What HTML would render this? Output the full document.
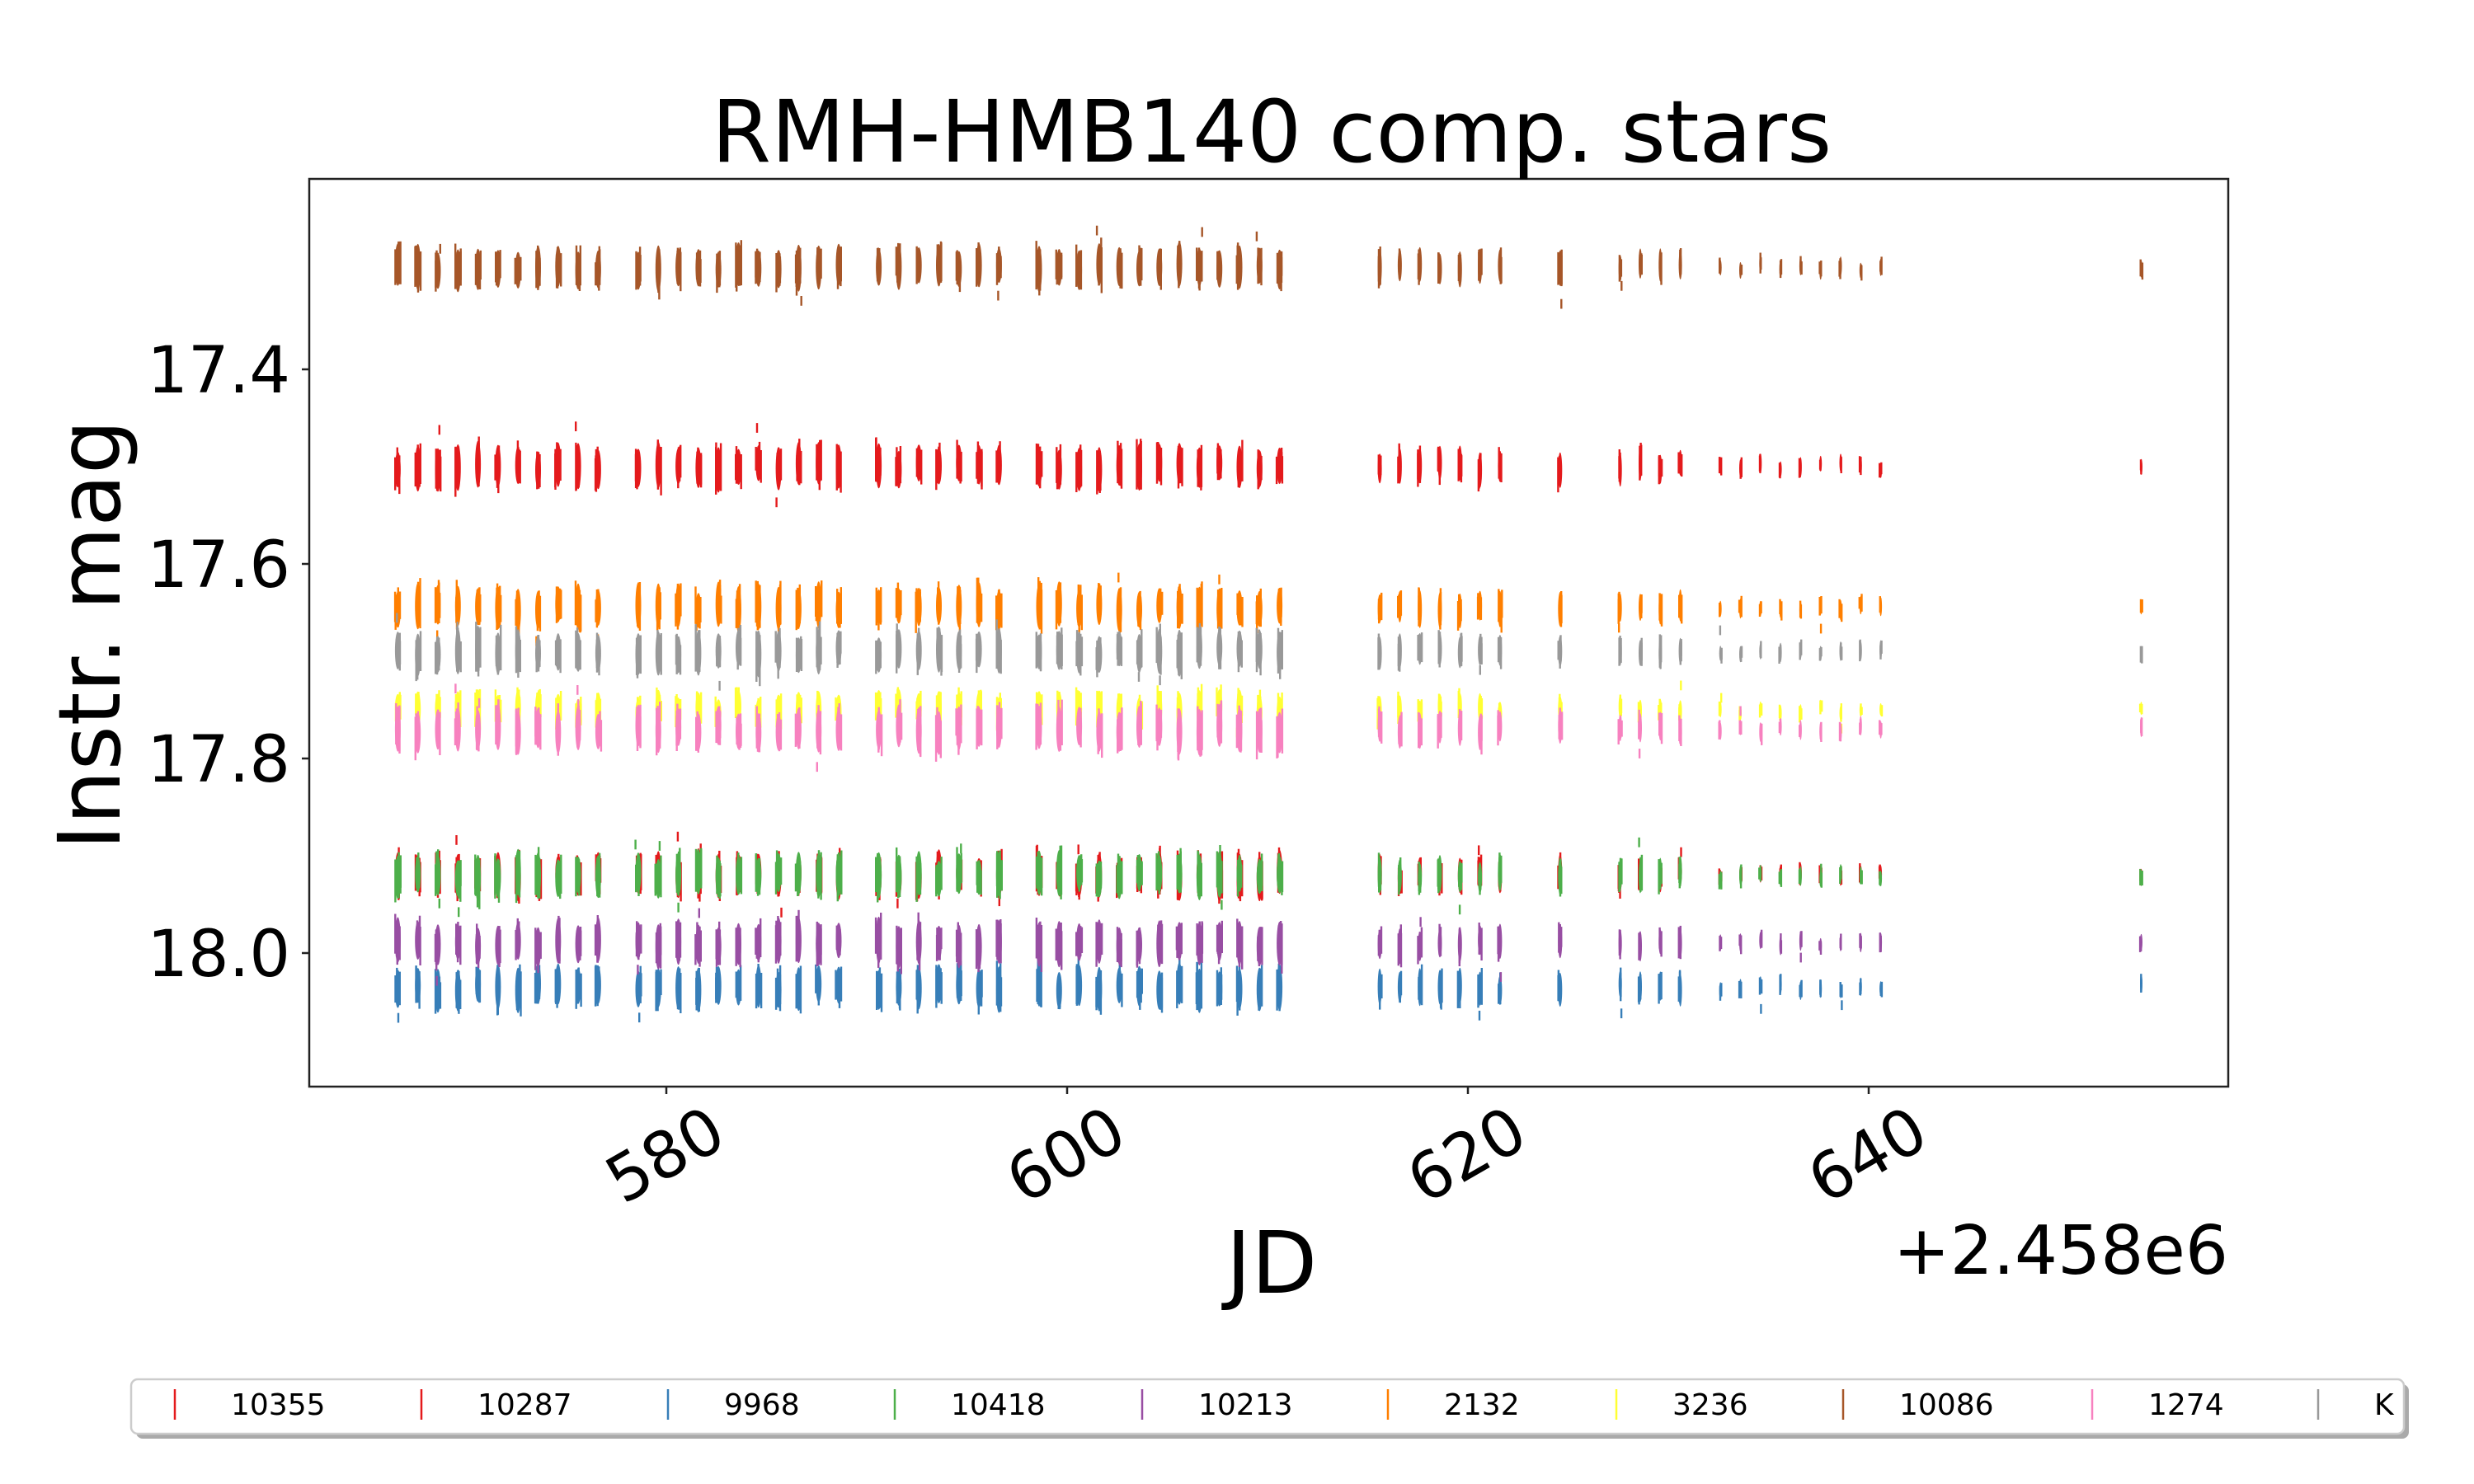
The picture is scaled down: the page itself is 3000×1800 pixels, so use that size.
<!DOCTYPE html>
<html><head><meta charset="utf-8">
<style>
html,body{margin:0;padding:0;background:#fff;}
svg{display:block;}
text{font-family:"DejaVu Sans","Liberation Sans",sans-serif;fill:#000;}
</style></head>
<body>
<svg id="s" width="3000" height="1800" viewBox="0 0 3000 1800" xmlns="http://www.w3.org/2000/svg">
<rect width="3000" height="1800" fill="#fff"/>
<g id="data"></g>
<rect x="375" y="217" width="2327" height="1101" fill="none" stroke="#222" stroke-width="2.5"/>
<g stroke="#222" stroke-width="2.5">
<line x1="366" y1="448" x2="375" y2="448"/>
<line x1="366" y1="684" x2="375" y2="684"/>
<line x1="366" y1="920" x2="375" y2="920"/>
<line x1="366" y1="1156" x2="375" y2="1156"/>
<line x1="808" y1="1318" x2="808" y2="1327"/>
<line x1="1294" y1="1318" x2="1294" y2="1327"/>
<line x1="1780" y1="1318" x2="1780" y2="1327"/>
<line x1="2266" y1="1318" x2="2266" y2="1327"/>
</g>
<g font-size="78" text-anchor="end">
<text x="352" y="476">17.4</text>
<text x="352" y="712">17.6</text>
<text x="352" y="948">17.8</text>
<text x="352" y="1184">18.0</text>
</g>
<g font-size="78" text-anchor="middle">
<text transform="translate(806,1400) rotate(-30)" dy="28">580</text>
<text transform="translate(1292,1400) rotate(-30)" dy="28">600</text>
<text transform="translate(1778,1400) rotate(-30)" dy="28">620</text>
<text transform="translate(2264,1400) rotate(-30)" dy="28">640</text>
</g>
<text x="2702" y="1545" font-size="82" text-anchor="end">+2.458e6</text>
<text x="1542" y="1568" font-size="104" text-anchor="middle">JD</text>
<text transform="translate(145,770) rotate(-90)" font-size="104" text-anchor="middle">Instr. mag</text>
<text x="1542" y="196" font-size="104" text-anchor="middle">RMH-HMB140 comp. stars</text>
<rect x="165" y="1679" width="2756" height="66" rx="8" fill="#aaa"/>
<rect x="159" y="1673" width="2756" height="66" rx="8" fill="#fff" stroke="#ccc" stroke-width="2.5"/>
<g id="leg" font-size="36"></g>
</svg>
<script>
(function(){
var series=[
 ["10355","#e41a1c",17.92,1],
 ["10287","#e41a1c",17.50,1],
 ["9968","#377eb8",18.035,1],
 ["10418","#4daf4a",17.92,1],
 ["10213","#984ea3",17.99,1],
 ["2132","#ff7f00",17.645,1],
 ["3236","#ffff33",17.75,0.8],
 ["10086","#a65628",17.295,1],
 ["1274","#f781bf",17.77,1],
 ["K","#999999",17.69,1]
];
var ks=[];
var k;
for(k=0;k<=10;k++)ks.push(k);
for(k=12;k<=22;k++)ks.push(k);
for(k=24;k<=30;k++)ks.push(k);
for(k=32;k<=44;k++)ks.push(k);
for(k=49;k<=55;k++)ks.push(k);
ks.push(58);
for(k=61;k<=64;k++)ks.push(k);
for(k=66;k<=74;k++)ks.push(k);
ks.push(87);
var seed=12345;
function r(){seed=(seed*1103515245+12345)%2147483648;return seed/2147483648;}
function X(d){return 1780+(d-620)*24.3;}
function Y(m){return 448+(m-17.4)*1180;}
var out=[];
series.forEach(function(s){
 var m0=s[2];
 ks.forEach(function(k){
  var d=566.6+k, x=X(d);
  var w,span,n;
  if(d<613){w=7;span=0.042;n=4;}
  else if(d<626){w=5;span=0.034;n=3;}
  else if(d<632){w=4;span=0.03;n=3;}
  else {w=3;span=0.018;n=2;}
  span*=s[3]*(0.85+r()*0.3);
  var off=(r()-0.5)*0.008;
  var c=m0+off;
  out.push('<ellipse cx="'+x.toFixed(1)+'" cy="'+Y(c).toFixed(1)+'" rx="'+(w/2).toFixed(1)+'" ry="'+(span*590).toFixed(1)+'" fill="'+s[1]+'"/>');
  for(var i=0;i<n;i++){
   var xi=x+(r()-0.5)*w;
   var cc=c+(r()-0.5)*span*0.3;
   var h=span*(0.3+r()*0.25);
   out.push('<line x1="'+xi.toFixed(1)+'" x2="'+xi.toFixed(1)+'" y1="'+Y(cc-h).toFixed(1)+'" y2="'+Y(cc+h).toFixed(1)+'" stroke="'+s[1]+'" stroke-width="2.4"/>');
  }
  if(r()<0.12){var xo=x+(r()-0.5)*w;var cm=c+(r()<0.5?-1:1)*(span*0.6+r()*0.015);
   out.push('<line x1="'+xo.toFixed(1)+'" x2="'+xo.toFixed(1)+'" y1="'+Y(cm-0.005).toFixed(1)+'" y2="'+Y(cm+0.005).toFixed(1)+'" stroke="'+s[1]+'" stroke-width="2.4"/>');}
 });
});
document.getElementById("data").innerHTML=out.join("");
var hx=[212,511,810,1085,1385,1683,1960,2235,2537,2811];
var lg=[];
series.forEach(function(s,i){
 lg.push('<line x1="'+hx[i]+'" x2="'+hx[i]+'" y1="1685" y2="1722" stroke="'+s[1]+'" stroke-width="2.5"/>');
 lg.push('<text x="'+(hx[i]+68)+'" y="1716">'+s[0]+'</text>');
});
document.getElementById("leg").innerHTML=lg.join("");
})();
</script>
</body></html>
